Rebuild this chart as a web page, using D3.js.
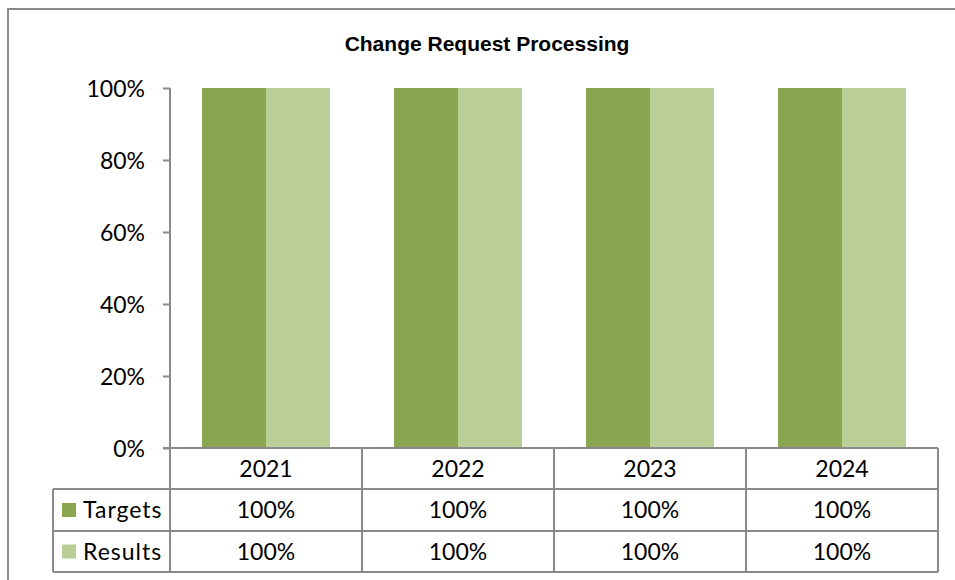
<!DOCTYPE html>
<html><head><meta charset="utf-8">
<script src="https://cdn.jsdelivr.net/npm/d3@7"></script>
<style>body{margin:0;background:#fff}svg{display:block}</style>
</head><body>
<svg id="c" width="955" height="580"></svg>
<script>
const categories = ["2021", "2022", "2023", "2024"];
const seriesNames = ["Targets", "Results"];
const targets = [1.00, 1.00, 1.00, 1.00];
const results = [1.00, 1.00, 1.00, 1.00];
const yTicks = [0, 0.2, 0.4, 0.6, 0.8, 1.0];
const colors = ["#8ba650", "#b9cf97"];
const title = "Change Request Processing";

(function () {
const seriesVals = [targets, results];
const svg = d3.select("#c");
const lineCol = "#8a8a8a";
const FONT = "Lato, 'Noto Sans', sans-serif";
const FS = 23;

// frame
svg.append("rect").attr("x", 8).attr("y", 9).attr("width", 1000).attr("height", 700)
  .attr("fill", "none").attr("stroke", lineCol).attr("stroke-width", 2);

svg.append("text").attr("x", 487).attr("y", 51).attr("text-anchor", "middle")
  .attr("font-family", "'Liberation Sans', Arial, sans-serif").attr("font-weight", "bold")
  .attr("font-size", 21).text(title);

const pl = 170, pr = 938, pt = 88, base = 448;
const x0 = d3.scaleBand().domain(categories).range([pl, pr]).padding(0);
const x1 = d3.scaleBand().domain(seriesNames).range([0, x0.bandwidth()]).paddingInner(0).paddingOuter(0.5);
const y = d3.scaleLinear().domain([0, 1]).range([base, pt]);

// bars
const g = svg.append("g");
categories.forEach((c, ci) => {
  seriesNames.forEach((s, si) => {
    const v = seriesVals[si][ci];
    g.append("rect").attr("x", x0(c) + x1(s)).attr("y", y(v))
      .attr("width", x1.bandwidth()).attr("height", y(0) - y(v)).attr("fill", colors[si]);
  });
});

// y axis
const ax = svg.append("g").attr("transform", `translate(${pl},0)`)
  .call(d3.axisLeft(y).tickValues(yTicks).tickFormat(d3.format(".0%")).tickSize(7).tickSizeOuter(7).tickPadding(18));
ax.selectAll("path,line").attr("stroke", lineCol).attr("stroke-width", 2);
ax.selectAll("text").attr("font-family", FONT).attr("font-size", FS).attr("fill", "#000").attr("dy", "0.35em");
ax.select(".domain").remove();

// table
const rowY = [base, 489, 531, 572];
const tl = svg.append("g").attr("stroke", lineCol).attr("stroke-width", 2).attr("fill", "none");
const hdrLeft = 53;
tl.append("line").attr("x1", 163).attr("x2", pr).attr("y1", rowY[0]).attr("y2", rowY[0]);
for (let i = 1; i < 4; i++) {
  tl.append("line").attr("x1", hdrLeft).attr("x2", pr).attr("y1", rowY[i]).attr("y2", rowY[i]);
}
tl.append("line").attr("x1", pl).attr("x2", pl).attr("y1", pt).attr("y2", rowY[3]);
categories.forEach(c => {
  const xx = x0(c) + x0.bandwidth();
  tl.append("line").attr("x1", xx).attr("x2", xx).attr("y1", rowY[0]).attr("y2", rowY[3]);
});
tl.append("line").attr("x1", hdrLeft).attr("x2", hdrLeft).attr("y1", rowY[1]).attr("y2", rowY[3]);

const fmt = d3.format(".0%");
const tt = svg.append("g").attr("font-family", FONT).attr("font-size", FS).attr("fill", "#000");
categories.forEach((c, ci) => {
  const cx = x0(c) + x0.bandwidth() / 2;
  tt.append("text").attr("x", cx).attr("y", (rowY[0] + rowY[1]) / 2).attr("dy", "0.35em")
    .attr("text-anchor", "middle").text(c);
  seriesNames.forEach((s, si) => {
    tt.append("text").attr("x", cx).attr("y", (rowY[si + 1] + rowY[si + 2]) / 2).attr("dy", "0.35em")
      .attr("text-anchor", "middle").text(fmt(seriesVals[si][ci]));
  });
});
seriesNames.forEach((s, si) => {
  const cy = (rowY[si + 1] + rowY[si + 2]) / 2;
  svg.append("rect").attr("x", 62).attr("y", cy - 7).attr("width", 14).attr("height", 14).attr("fill", colors[si]);
  tt.append("text").attr("x", 83).attr("y", cy).attr("dy", "0.35em").attr("letter-spacing", 1).text(s);
});
})();
</script>
</body></html>
